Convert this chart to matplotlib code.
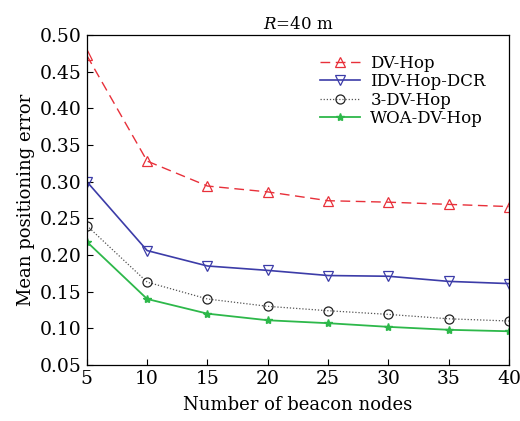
import matplotlib
matplotlib.use("Agg")
import matplotlib.pyplot as plt

beacons = [5, 10, 15, 20, 25, 30, 35, 40]
dv_hop = [0.472, 0.328, 0.294, 0.286, 0.274, 0.272, 0.269, 0.266]
idv_hop_dcr = [0.300, 0.206, 0.185, 0.179, 0.172, 0.171, 0.164, 0.161]
dv3_hop = [0.240, 0.163, 0.140, 0.130, 0.124, 0.119, 0.113, 0.110]
woa_dv_hop = [0.218, 0.140, 0.120, 0.111, 0.107, 0.102, 0.098, 0.096]
yticks = [0.05, 0.10, 0.15, 0.20, 0.25, 0.30, 0.35, 0.40, 0.45, 0.50]
xticks = [5, 10, 15, 20, 25, 30, 35, 40]

plt.rcParams['font.family'] = ['DejaVu Serif']
plt.rcParams['mathtext.fontset'] = 'dejavuserif'

fig = plt.figure(figsize=(5.2, 4.21), dpi=100)
ax = fig.add_axes([0.167, 0.133, 0.812, 0.784])

ax.plot(beacons, dv_hop, color='#e8303a', ls=(0, (7, 4)), lw=1.0, marker='^',
        ms=7, mfc='none', mec='#e8303a', mew=0.9, label='DV-Hop')
ax.plot(beacons, idv_hop_dcr, color='#3c3ca8', ls='-', lw=1.2, marker='v',
        ms=7, mfc='none', mec='#3c3ca8', mew=0.9, label='IDV-Hop-DCR')
ax.plot(beacons, dv3_hop, color='#555555', ls=(0, (1, 1.5)), lw=0.9, marker='o',
        ms=6.5, mfc='none', mec='#222222', mew=0.9, label='3-DV-Hop')
ax.plot(beacons, woa_dv_hop, color='#2db84a', ls='-', lw=1.3, marker='*',
        ms=6, mfc='#2db84a', mec='#2db84a', label='WOA-DV-Hop')

ax.set_xlim(5, 40)
ax.set_ylim(0.05, 0.50)
ax.set_xticks(xticks)
ax.set_yticks(yticks)
ax.set_yticklabels([f"{v:.2f}" for v in yticks])
ax.tick_params(direction='in', length=4, labelsize=13.5, top=False, right=False)
for s in ax.spines.values():
    s.set_linewidth(0.9)

ax.set_xlabel('Number of beacon nodes', fontsize=13, labelpad=6)
ax.set_ylabel('Mean positioning error', fontsize=13)
ax.set_title('$R$=40 m', fontsize=12, pad=4)

leg = ax.legend(loc='upper right', frameon=False, fontsize=12,
                handlelength=2.4, handletextpad=0.6, labelspacing=0.08,
                bbox_to_anchor=(0.98, 0.985))

fig.savefig('out.png', dpi=100)
